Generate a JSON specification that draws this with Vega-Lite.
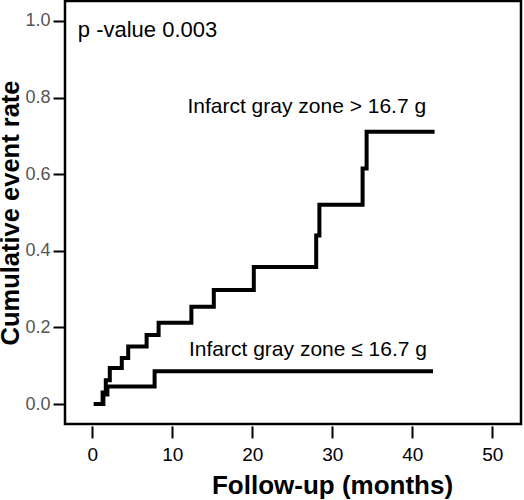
{
  "$schema": "https://vega.github.io/schema/vega-lite/v6.json",
  "autosize": {"type": "none"},
  "width": 456,
  "height": 423,
  "padding": {"left": 65, "top": 1, "right": 3, "bottom": 76},
  "background": "white",
  "config": {
    "view": {"stroke": "black", "strokeWidth": 2.5},
    "font": "Liberation Sans"
  },
  "datasets": {
    "curves": [
      {"group": "high", "t": 0.2, "rate": 0},
      {"group": "high", "t": 1.3, "rate": 0.03},
      {"group": "high", "t": 1.7, "rate": 0.062},
      {"group": "high", "t": 2.2, "rate": 0.094},
      {"group": "high", "t": 3.7, "rate": 0.12},
      {"group": "high", "t": 4.5, "rate": 0.15},
      {"group": "high", "t": 6.8, "rate": 0.18},
      {"group": "high", "t": 8.3, "rate": 0.212},
      {"group": "high", "t": 12.4, "rate": 0.254},
      {"group": "high", "t": 15.2, "rate": 0.298},
      {"group": "high", "t": 20.2, "rate": 0.358},
      {"group": "high", "t": 28.0, "rate": 0.44},
      {"group": "high", "t": 28.4, "rate": 0.52},
      {"group": "high", "t": 33.8, "rate": 0.615},
      {"group": "high", "t": 34.3, "rate": 0.711},
      {"group": "high", "t": 42.8, "rate": 0.711},
      {"group": "low", "t": 0.2, "rate": 0},
      {"group": "low", "t": 1.4, "rate": 0.025},
      {"group": "low", "t": 1.9, "rate": 0.046},
      {"group": "low", "t": 7.8, "rate": 0.086},
      {"group": "low", "t": 42.6, "rate": 0.086}
    ],
    "labels": [
      {"t": -1.8, "rate": 0.977, "label": "p -value 0.003", "size": 22},
      {"t": 11.9, "rate": 0.775, "label": "Infarct gray zone > 16.7 g", "size": 21},
      {"t": 12.1, "rate": 0.141, "label": "Infarct gray zone ≤ 16.7 g", "size": 21}
    ]
  },
  "layer": [
    {
      "data": {"name": "curves"},
      "mark": {"type": "line", "interpolate": "step-after", "strokeWidth": 4, "color": "black", "clip": true},
      "encoding": {
        "x": {
          "field": "t", "type": "quantitative",
          "scale": {"domain": [-3.4, 53.6], "nice": false, "zero": false},
          "axis": {
            "values": [0, 10, 20, 30, 40, 50],
            "title": "Follow-up (months)",
            "grid": false, "domain": false,
            "offset": 2, "tickSize": 12, "tickWidth": 2, "tickColor": "black",
            "labelFontSize": 19, "labelColor": "black", "labelPadding": 7,
            "titleFontSize": 26, "titleFontWeight": "bold", "titleColor": "black",
            "titlePadding": 8, "titleX": 267
          }
        },
        "y": {
          "field": "rate", "type": "quantitative",
          "scale": {"domain": [-0.052, 1.052], "nice": false, "zero": false},
          "axis": {
            "values": [0, 0.2, 0.4, 0.6, 0.8, 1.0],
            "format": ".1f",
            "title": "Cumulative event rate",
            "grid": false, "domain": false,
            "tickSize": 12, "tickWidth": 2, "tickColor": "black",
            "labelFontSize": 18, "labelColor": "#555555", "labelPadding": 3,
            "titleFontSize": 25.5, "titleFontWeight": "bold", "titleColor": "black",
            "titlePadding": 1
          }
        },
        "detail": {"field": "group", "type": "nominal"}
      }
    },
    {
      "data": {"name": "labels"},
      "mark": {"type": "text", "align": "left", "baseline": "middle", "color": "black"},
      "encoding": {
        "x": {"field": "t", "type": "quantitative"},
        "y": {"field": "rate", "type": "quantitative"},
        "text": {"field": "label", "type": "nominal"},
        "size": {"field": "size", "type": "quantitative", "scale": null}
      }
    }
  ]
}
